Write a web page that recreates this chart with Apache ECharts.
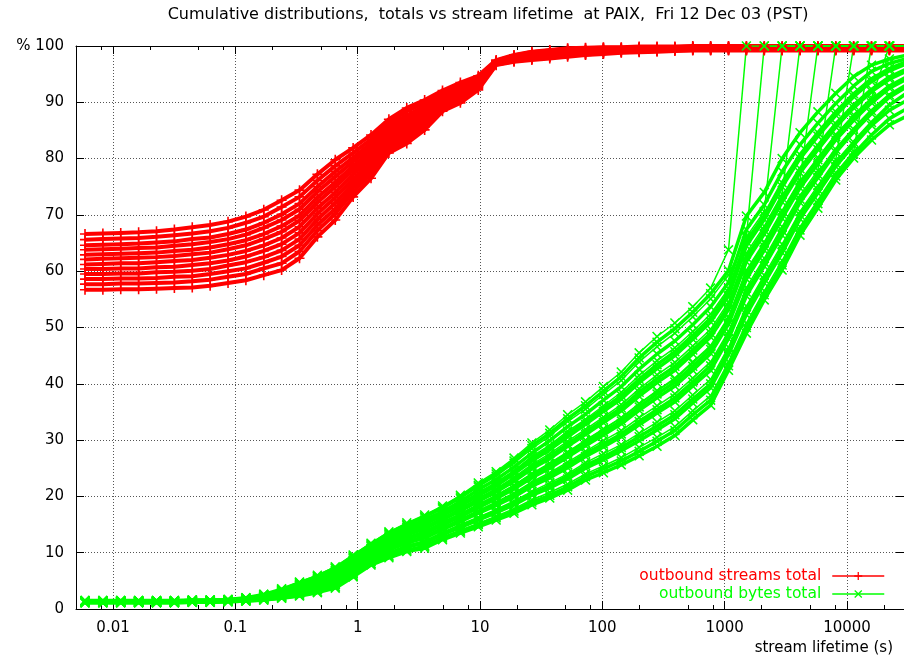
<!DOCTYPE html>
<html>
<head>
<meta charset="utf-8">
<title>Cumulative distributions at PAIX</title>
<script src="https://cdn.jsdelivr.net/npm/echarts@6.0.0/dist/echarts.min.js"></script>
<style>
html,body{margin:0;padding:0;background:#fff;}
#main{width:904px;height:660px;}
</style>
</head>
<body>
<div id="main"></div>
<script>
// stream lifetime bins (s), one point per marker
var lifetime = [0.0059, 0.00826, 0.01156, 0.01619, 0.02267, 0.03173, 0.04443, 0.0622, 0.0871,
  0.1219, 0.1707, 0.2389, 0.3345, 0.4683, 0.6556, 0.918, 1.285, 1.799, 2.519, 3.526, 4.936,
  6.911, 9.675, 13.55, 18.96, 26.55, 37.17, 52.04, 72.85, 102.0, 142.8, 199.9, 279.9, 391.8,
  548.5, 768.0, 1075, 1505, 2107, 2950, 4130, 5782, 8095, 11333, 15867, 22213, 31098];

// outbound streams total, % (one row per period)
var streamsTotal = [
  [66.6,66.7,66.8,66.9,67.1,67.4,67.8,68.2,68.8,69.7,70.9,72.6,74.4,77.2,79.8,81.9,84.2,87.0,89.0,90.4,92.1,93.5,94.7,97.5,98.4,99.0,99.3,99.6,99.7,99.8,99.8,99.9,99.9,99.9,100,100,100,100,100,100,100,100,100,100,100,100,100],
  [65.6,65.7,65.8,65.9,66.1,66.4,66.7,67.1,67.7,68.6,69.7,71.4,73.2,76.1,78.7,81.0,83.4,86.4,88.4,89.9,91.7,93.1,94.5,97.4,98.3,98.9,99.2,99.5,99.6,99.7,99.7,99.8,99.8,99.8,99.9,99.9,99.9,99.9,99.9,99.9,99.9,99.9,99.9,99.9,99.9,99.9,99.9],
  [64.6,64.7,64.8,64.9,65.1,65.3,65.7,66.0,66.6,67.4,68.6,70.1,72.0,75.0,77.7,80.2,82.7,85.8,87.7,89.3,91.4,92.8,94.2,97.3,98.2,98.7,99.0,99.3,99.4,99.6,99.6,99.7,99.7,99.7,99.8,99.8,99.8,99.8,99.8,99.8,99.8,99.8,99.8,99.8,99.8,99.8,99.8],
  [63.8,63.9,64.0,64.1,64.2,64.5,64.8,65.2,65.7,66.5,67.7,69.1,71.0,74.1,76.8,79.5,82.0,85.3,87.2,88.9,91.1,92.5,94.0,97.2,98.1,98.6,98.9,99.2,99.3,99.5,99.5,99.6,99.6,99.7,99.8,99.8,99.8,99.8,99.8,99.8,99.8,99.8,99.8,99.8,99.8,99.8,99.8],
  [62.9,63.0,63.1,63.2,63.3,63.6,63.8,64.2,64.8,65.5,66.6,68.0,69.9,73.1,75.8,78.7,81.4,84.8,86.7,88.4,90.7,92.2,93.8,97.2,98.0,98.4,98.7,99.0,99.2,99.4,99.4,99.5,99.6,99.6,99.7,99.7,99.7,99.7,99.7,99.7,99.7,99.7,99.7,99.7,99.7,99.7,99.7],
  [62.1,62.2,62.3,62.4,62.5,62.7,63.0,63.3,63.9,64.6,65.7,67.0,69.0,72.2,75.0,78.0,80.7,84.3,86.2,88.0,90.4,91.9,93.6,97.1,97.9,98.3,98.6,98.9,99.1,99.3,99.4,99.5,99.5,99.5,99.6,99.6,99.6,99.6,99.6,99.6,99.6,99.6,99.6,99.6,99.6,99.6,99.6],
  [61.2,61.3,61.4,61.4,61.6,61.8,62.0,62.4,62.9,63.6,64.6,65.9,67.9,71.2,74.0,77.2,80.0,83.8,85.6,87.5,90.1,91.6,93.4,97.0,97.8,98.2,98.5,98.8,99.0,99.2,99.3,99.4,99.4,99.5,99.6,99.6,99.6,99.6,99.6,99.6,99.6,99.6,99.6,99.6,99.6,99.6,99.6],
  [60.4,60.4,60.5,60.5,60.7,60.8,61.1,61.4,61.9,62.6,63.6,64.8,66.8,70.2,73.1,76.4,79.3,83.2,85.0,87.1,89.8,91.2,93.1,96.9,97.6,98.1,98.4,98.7,98.9,99.0,99.2,99.3,99.3,99.4,99.5,99.5,99.5,99.5,99.5,99.5,99.5,99.5,99.5,99.5,99.5,99.5,99.5],
  [59.5,59.5,59.6,59.6,59.8,59.9,60.1,60.4,61.0,61.6,62.5,63.7,65.7,69.2,72.1,75.6,78.7,82.7,84.5,86.6,89.4,90.9,92.9,96.9,97.5,97.9,98.2,98.5,98.8,98.9,99.1,99.2,99.3,99.3,99.4,99.4,99.4,99.4,99.4,99.4,99.4,99.4,99.4,99.4,99.4,99.4,99.4],
  [58.6,58.6,58.7,58.7,58.8,59.0,59.1,59.5,60.0,60.5,61.5,62.6,64.6,68.2,71.1,74.9,78.0,82.1,83.9,86.1,89.1,90.6,92.7,96.8,97.4,97.8,98.1,98.4,98.6,98.8,99.0,99.1,99.2,99.3,99.4,99.4,99.4,99.4,99.4,99.4,99.4,99.4,99.4,99.4,99.4,99.4,99.4],
  [57.7,57.7,57.8,57.8,57.9,58.0,58.2,58.5,59.0,59.5,60.5,61.4,63.5,67.2,70.2,74.1,77.3,81.6,83.3,85.6,88.8,90.3,92.5,96.7,97.3,97.7,98.0,98.3,98.5,98.7,98.9,99.0,99.1,99.2,99.3,99.3,99.3,99.3,99.3,99.3,99.3,99.3,99.3,99.3,99.3,99.3,99.3],
  [56.7,56.7,56.8,56.8,56.9,57.0,57.1,57.4,57.9,58.4,59.3,60.2,62.3,66.1,69.1,73.2,76.5,81.0,82.7,85.1,88.4,89.9,92.2,96.6,97.2,97.5,97.8,98.1,98.4,98.6,98.8,98.9,99.0,99.1,99.2,99.2,99.2,99.2,99.2,99.2,99.2,99.2,99.2,99.2,99.2,99.2,99.2]
];

// outbound bytes total, % (one row per period)
var bytesTotal = [
  [1.5,1.5,1.5,1.5,1.5,1.5,1.6,1.6,1.7, 2.0,2.6,3.5,4.7,5.8,7.3,9.4,11.5,13.5,15.0, 16.4,18.0,19.9,22.0,24.0,26.3,29.0,31.2,33.8,36.1, 38.7,41.3,44.6,47.4,49.8,52.7,56.0,60.1,69.8,74.0, 80.0,84.6,88.3,91.6,94.6,96.6,97.7,98.4],
  [1.4,1.4,1.4,1.4,1.4,1.4,1.5,1.5,1.6, 1.9,2.4,3.3,4.4,5.5,6.9,9.0,11.1,13.0,14.5, 15.8,17.3,19.1,21.2,23.0,25.2,27.7,29.9,32.4,34.6, 37.1,39.5,42.6,45.3,47.6,50.5,53.7,58.0,67.4,71.8, 77.7,82.5,86.3,89.8,92.9,95.5,96.9,97.8],
  [1.4,1.4,1.4,1.4,1.4,1.4,1.5,1.5,1.6, 1.8,2.3,3.1,4.1,5.1,6.4,8.5,10.6,12.4,13.8, 15.0,16.6,18.3,20.1,21.9,24.0,26.3,28.3,30.6,32.8, 35.1,37.3,40.2,42.7,45.0,47.9,51.0,55.6,64.5,69.2, 75.0,80.0,84.0,87.7,91.0,93.7,95.6,96.9],
  [1.4,1.4,1.4,1.4,1.4,1.4,1.5,1.5,1.6, 1.8,2.3,3.2,4.2,5.2,6.5,8.6,10.7,12.5,14.0, 15.2,16.8,18.5,20.4,22.2,24.3,26.7,28.7,31.1,33.3, 35.6,37.9,40.8,43.4,45.7,48.6,51.7,56.3,65.3,69.9, 75.7,80.7,84.6,88.3,91.5,94.2,96.0,97.3],
  [1.3,1.3,1.3,1.3,1.3,1.3,1.4,1.4,1.5, 1.7,2.2,2.9,3.8,4.7,5.9,8.0,10.1,11.8,13.2, 14.2,15.8,17.4,19.1,20.8,22.7,24.9,26.7,28.9,31.0, 33.1,35.2,37.8,40.2,42.4,45.3,48.3,53.2,61.7,66.6, 72.3,77.5,81.6,85.6,89.0,91.9,94.1,95.6],
  [1.3,1.3,1.3,1.3,1.3,1.3,1.4,1.4,1.5, 1.8,2.2,2.9,3.8,4.8,6.0,8.1,10.2,11.9,13.3, 14.4,16.0,17.6,19.4,21.1,23.0,25.3,27.1,29.3,31.4, 33.6,35.7,38.5,40.9,43.1,46.0,49.0,53.8,62.5,67.3, 73.0,78.2,82.3,86.2,89.5,92.3,94.5,96.0],
  [1.3,1.3,1.3,1.3,1.3,1.3,1.4,1.4,1.5, 1.7,2.1,2.7,3.5,4.4,5.5,7.6,9.7,11.3,12.6, 13.6,15.2,16.7,18.3,19.9,21.7,23.7,25.4,27.5,29.5, 31.5,33.4,35.9,38.2,40.3,43.1,46.1,51.2,59.4,64.4, 70.1,75.5,79.8,83.9,87.4,90.4,92.9,94.6],
  [1.3,1.3,1.3,1.3,1.3,1.3,1.4,1.4,1.5, 1.7,2.0,2.6,3.4,4.3,5.4,7.4,9.5,11.1,12.4, 13.4,14.9,16.4,18.0,19.6,21.3,23.3,25.0,27.0,29.0, 30.9,32.9,35.3,37.5,39.6,42.4,45.4,50.6,58.6,63.7, 69.4,74.8,79.1,83.3,86.8,89.9,92.5,94.2],
  [1.2,1.2,1.2,1.2,1.2,1.2,1.3,1.3,1.4, 1.6,1.9,2.5,3.1,3.9,5.0,7.0,9.1,10.6,11.9, 12.8,14.3,15.7,17.2,18.7,20.3,22.2,23.8,25.6,27.6, 29.3,31.1,33.3,35.4,37.5,40.3,43.2,48.6,56.3,61.6, 67.2,72.8,77.2,81.6,85.2,88.5,91.3,93.2],
  [1.2,1.2,1.2,1.2,1.2,1.2,1.3,1.3,1.4, 1.6,1.9,2.4,3.1,3.8,4.8,6.9,9.0,10.5,11.7, 12.6,14.1,15.5,17.0,18.4,19.9,21.8,23.3,25.1,27.1, 28.8,30.6,32.7,34.8,36.8,39.6,42.4,48.0,55.6,60.9, 66.4,72.2,76.6,81.1,84.7,88.0,90.9,92.8],
  [1.2,1.2,1.2,1.2,1.2,1.2,1.3,1.3,1.4, 1.5,1.8,2.2,2.8,3.5,4.4,6.4,8.5,9.9,11.1, 11.9,13.4,14.7,16.0,17.4,18.8,20.5,21.9,23.6,25.5, 27.0,28.7,30.6,32.5,34.5,37.3,40.0,45.8,53.1,58.6, 64.0,70.0,74.5,79.2,82.9,86.4,89.5,91.7],
  [1.2,1.2,1.2,1.2,1.2,1.2,1.3,1.3,1.4, 1.5,1.8,2.2,2.7,3.4,4.3,6.3,8.4,9.8,11.0, 11.7,13.2,14.5,15.8,17.1,18.5,20.2,21.5,23.1,25.0, 26.5,28.1,29.9,31.8,33.8,36.6,39.3,45.2,52.3,57.9, 63.3,69.3,73.9,78.6,82.4,85.9,88.6,90.4],
  [1.1,1.1,1.1,1.1,1.1,1.1,1.2,1.2,1.3, 1.4,1.6,2.0,2.4,3.0,3.9,5.9,8.0,9.3,10.4, 11.1,12.6,13.8,15.0,16.2,17.4,19.0,20.2,21.7,23.5, 24.9,26.3,28.0,29.8,31.7,34.5,37.1,43.2,50.0,55.8, 61.1,67.3,72.0,76.9,80.8,84.2,87.1,88.9],
  [1.1,1.1,1.1,1.1,1.1,1.1,1.2,1.2,1.3, 1.4,1.6,1.9,2.3,2.9,3.7,5.7,7.8,9.1,10.2, 10.8,12.3,13.5,14.6,15.8,17.0,18.5,19.7,21.1,22.9, 24.2,25.6,27.2,28.9,30.8,33.6,36.2,42.4,49.0,54.9, 60.2,66.4,71.2,76.2,80.1,83.3,86.0,87.6]
];

// periods whose longest streams all fall in one bin: the curve jumps to 100
var bytesTotalEnded = [
  [1.5,1.5,1.5,1.5,1.5,1.5,1.6,1.6,1.7, 2.0,2.6,3.6,4.8,6.0,7.5,9.6,11.7,13.7,15.3, 16.7,18.3,20.2,22.4,24.4,26.8,29.5,31.8,34.5,36.8, 39.5,42.1,45.5,48.4,50.8,53.7,57.0,63.8,100,100, 100,100,100,100,100,100,100,100],
  [1.5,1.5,1.5,1.5,1.5,1.5,1.6,1.6,1.7, 1.9,2.5,3.4,4.6,5.7,7.2,9.2,11.3,13.3,14.8, 16.2,17.8,19.6,21.7,23.6,25.9,28.5,30.7,33.3,35.5, 38.1,40.6,43.9,46.6,49.0,51.9,55.1,59.3,66.0,100, 100,100,100,100,100,100,100,100],
  [1.4,1.4,1.4,1.4,1.4,1.4,1.5,1.5,1.6, 1.9,2.4,3.2,4.3,5.3,6.7,8.7,10.8,12.7,14.2, 15.4,17.0,18.7,20.7,22.5,24.6,27.1,29.1,31.6,33.7, 36.1,38.5,41.5,44.1,46.4,49.3,52.4,56.9,66.1,70.6, 100,100,100,100,100,100,100,100],
  [1.4,1.4,1.4,1.4,1.4,1.4,1.5,1.5,1.6, 1.8,2.3,3.0,3.9,4.9,6.2,8.2,10.3,12.1,13.5, 14.6,16.2,17.9,19.7,21.4,23.4,25.7,27.6,29.8,31.9, 34.1,36.3,39.1,41.6,43.8,46.7,49.7,54.5,63.2,68.0, 73.7,100,100,100,100,100,100,100],
  [1.3,1.3,1.3,1.3,1.3,1.3,1.4,1.4,1.5, 1.7,2.1,2.8,3.6,4.5,5.6,7.7,9.8,11.4,12.8, 13.8,15.4,16.9,18.6,20.2,22.0,24.1,25.9,27.9,30.0, 32.0,34.0,36.5,38.8,41.0,43.9,46.8,51.9,60.2,65.2, 70.8,76.2,100,100,100,100,100,100],
  [1.2,1.2,1.2,1.2,1.2,1.2,1.3,1.3,1.4, 1.6,2.0,2.5,3.2,4.0,5.1,7.1,9.2,10.8,12.1, 13.0,14.5,16.0,17.5,19.0,20.6,22.6,24.2,26.1,28.0, 29.9,31.7,34.0,36.1,38.2,41.0,43.9,49.3,57.1,62.3, 67.9,73.5,77.9,100,100,100,100,100],
  [1.2,1.2,1.2,1.2,1.2,1.2,1.3,1.3,1.4, 1.5,1.8,2.3,2.9,3.6,4.5,6.6,8.7,10.1,11.3, 12.1,13.6,15.0,16.3,17.7,19.2,20.9,22.4,24.0,26.0, 27.6,29.2,31.2,33.2,35.2,38.0,40.8,46.5,53.8,59.3, 64.8,70.6,75.2,79.8,100,100,100,100],
  [1.1,1.1,1.1,1.1,1.1,1.1,1.2,1.2,1.3, 1.4,1.7,2.0,2.5,3.1,4.0,6.0,8.1,9.5,10.6, 11.3,12.8,14.0,15.2,16.5,17.8,19.4,20.7,22.2,24.0, 25.4,26.9,28.7,30.5,32.4,35.2,37.9,43.9,50.8,56.5, 61.9,67.9,72.6,77.5,81.3,100,100,100],
  [1.3,1.3,1.3,1.3,1.3,1.3,1.4,1.4,1.5, 1.7,2.1,2.8,3.6,4.5,5.6,7.7,9.8,11.4,12.8, 13.8,15.3,16.9,18.5,20.1,21.9,24.0,25.8,27.8,29.9, 31.9,33.9,36.4,38.7,40.8,43.7,46.6,51.7,60.0,65.0, 70.6,76.0,80.2,84.3,87.8,90.8,100,100]
];

// minor tics on the log axis
var minorTicks = [0.008, 0.02, 0.05, 0.08, 0.2, 0.5, 0.8, 2, 5, 8, 20, 50, 80,
  200, 500, 800, 2000, 5000, 8000, 20000];

var chart = echarts.init(document.getElementById('main'));
var font = 'DejaVu Sans';
var plus = 'path://M4.2,0H5.8V4.2H10V5.8H5.8V10H4.2V5.8H0V4.2H4.2Z';
var cross = 'path://M0,1.1L1.1,0L5,3.9L8.9,0L10,1.1L6.1,5L10,8.9L8.9,10L5,6.1L1.1,10L0,8.9L3.9,5Z';
var xMin = 0.00498, xMax = 29240;

function pairs(vals) {
  return lifetime.map(function (t, i) { return [t, vals[i]]; });
}

function curve(name, row, color, mark, width) {
  return {
    name: name, type: 'line', data: pairs(row),
    symbol: mark, symbolSize: 10, showAllSymbol: true, silent: true,
    lineStyle: { color: color, width: width }, itemStyle: { color: color }
  };
}

var series = [];
streamsTotal.forEach(function (row) {
  series.push(curve('outbound streams total', row, '#ff0000', plus, 4));
});
bytesTotal.forEach(function (row) {
  series.push(curve('outbound bytes total', row, '#00ff00', cross, 3.5));
});
bytesTotalEnded.forEach(function (row) {
  series.push(curve('outbound bytes total', row, '#00ff00', cross, 1.5));
});

var dotted = { show: true, lineStyle: { color: '#555', width: 1, type: [1, 2] } };
var black = { show: true, lineStyle: { color: '#000', width: 1 } };

var option = {
  animation: false,
  backgroundColor: '#fff',
  title: {
    text: 'Cumulative distributions,  totals vs stream lifetime  at PAIX,  Fri 12 Dec 03 (PST)',
    left: 483, top: 2, textAlign: 'center',
    textStyle: { fontFamily: font, fontSize: 16, fontWeight: 'normal', color: '#000' }
  },
  legend: {
    orient: 'vertical', right: 14, top: 562, align: 'right',
    itemWidth: 52, itemHeight: 10, itemGap: 0, selectedMode: false,
    lineStyle: { width: 1.5 },
    textStyle: { fontFamily: font, fontSize: 15.5, lineHeight: 18, padding: [0, 6, 0, 0] },
    data: [
      { name: 'outbound streams total', textStyle: { color: '#ff0000' } },
      { name: 'outbound bytes total', textStyle: { color: '#00ff00' } }
    ]
  },
  grid: { left: 76, top: 46, right: 0, bottom: 51 },
  xAxis: [
    {
      type: 'log', min: xMin, max: xMax, position: 'bottom',
      name: 'stream lifetime (s)', nameLocation: 'end', nameGap: -11,
      nameTextStyle: { fontFamily: font, fontSize: 15, color: '#000', align: 'right', verticalAlign: 'top', padding: [32, 0, 0, 0] },
      axisLine: black,
      axisTick: { show: true, inside: true, length: 8, lineStyle: { color: '#000' } },
      axisLabel: {
        fontFamily: font, fontSize: 15, color: '#000', margin: 12, showMinLabel: false, showMaxLabel: false,
        formatter: function (v) { return String(+Number(v).toPrecision(6)); }
      },
      splitLine: dotted
    },
    {
      type: 'log', min: xMin, max: xMax, position: 'bottom',
      axisLine: { show: false },
      axisTick: { show: true, inside: true, length: 4, customValues: minorTicks, lineStyle: { color: '#000' } },
      axisLabel: { show: false }, splitLine: { show: false }
    },
    {
      type: 'log', min: xMin, max: xMax, position: 'top',
      axisLine: black,
      axisTick: { show: true, inside: true, length: 8, lineStyle: { color: '#000' } },
      axisLabel: { show: false }, splitLine: { show: false }
    },
    {
      type: 'log', min: xMin, max: xMax, position: 'top',
      axisLine: { show: false },
      axisTick: { show: true, inside: true, length: 4, customValues: minorTicks, lineStyle: { color: '#000' } },
      axisLabel: { show: false }, splitLine: { show: false }
    }
  ],
  yAxis: [
    {
      type: 'value', min: 0, max: 100, interval: 10, position: 'left',
      axisLine: black,
      axisTick: { show: true, inside: true, length: 8, lineStyle: { color: '#000' } },
      axisLabel: {
        fontFamily: font, fontSize: 15, color: '#000', margin: 12,
        formatter: function (v) { return v === 100 ? '% 100' : String(v); }
      },
      splitLine: dotted
    },
    {
      type: 'value', min: 0, max: 100, interval: 10, position: 'right',
      axisLine: black,
      axisTick: { show: true, inside: true, length: 8, lineStyle: { color: '#000' } },
      axisLabel: { show: false }, splitLine: { show: false }
    }
  ],
  series: series
};

chart.setOption(option);
</script>
</body>
</html>
